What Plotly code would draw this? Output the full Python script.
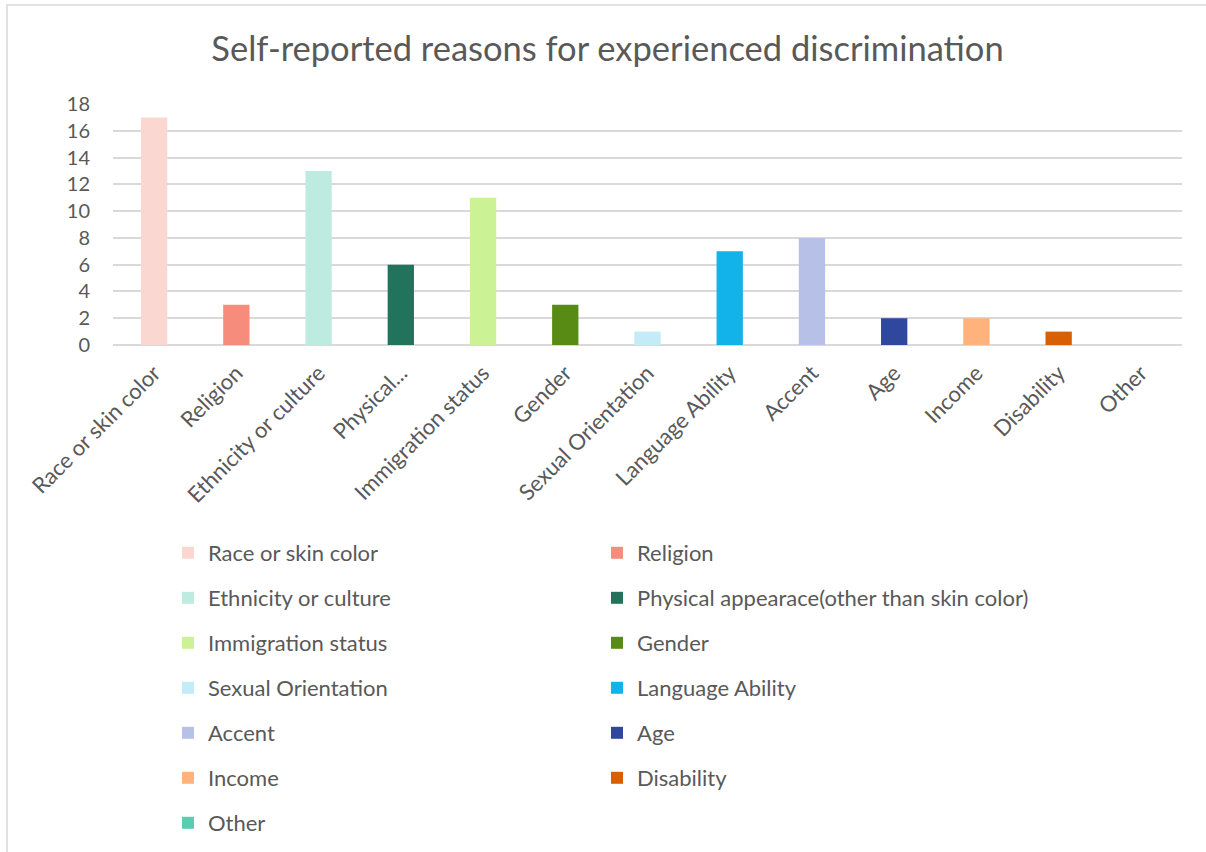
import plotly.graph_objects as go

# Survey responses: reasons people gave for discrimination they experienced
categories = [
    "Race or skin color", "Religion", "Ethnicity or culture",
    "Physical appearace(other than skin color)", "Immigration status", "Gender",
    "Sexual Orientation", "Language Ability", "Accent", "Age", "Income",
    "Disability", "Other",
]
tick_labels = [
    "Race or skin color", "Religion", "Ethnicity or culture", "Physical...",
    "Immigration status", "Gender", "Sexual Orientation", "Language Ability",
    "Accent", "Age", "Income", "Disability", "Other",
]
counts = [17, 3, 13, 6, 11, 3, 1, 7, 8, 2, 2, 1, 0]
colors = [
    "#FBD7D2", "#F58C7C", "#BEEBE0", "#22735C", "#CCF296", "#578B14",
    "#C4EBF8", "#12B3EA", "#B7C1E7", "#2F479C", "#FFB27C", "#D95F04",
    "#5ACCB0",
]

FONT = "Lato"
GREY = "#595959"

W, H = 1206, 852
L, R, T, B = 113, 24, 104, 507
pw, ph = W - L - R, H - T - B


def px_x(x):
    return (x - L) / pw


def px_y(y):
    return (H - B - y) / ph


fig = go.Figure()
for i, (cat, tick, val, col) in enumerate(zip(categories, tick_labels, counts, colors)):
    fig.add_trace(go.Bar(
        x=[tick], y=[val], name=cat,
        marker=dict(color=col, line=dict(width=0)),
        width=0.32,
        legend="legend" if i % 2 == 0 else "legend2",
        legendgroup=cat,
    ))

legend_common = dict(
    orientation="v",
    yanchor="top",
    xanchor="left",
    font=dict(family=FONT, size=22, color=GREY),
    tracegroupgap=13.4,
    bgcolor="rgba(0,0,0,0)",
    itemclick=False,
)

fig.update_layout(
    width=W, height=H,
    margin=dict(l=L, r=R, t=T, b=B, autoexpand=False),
    paper_bgcolor="white",
    plot_bgcolor="white",
    barmode="overlay",
    bargap=0.68,
    title=dict(
        text="Self-reported reasons for experienced discrimination",
        x=607.5 / W, xanchor="center", xref="container",
        y=1 - 49 / H, yanchor="middle",
        font=dict(family=FONT, size=34.5, color=GREY),
    ),
    xaxis=dict(
        categoryorder="array", categoryarray=tick_labels,
        tickangle=-45,
        tickfont=dict(family=FONT, size=22, color=GREY),
        showgrid=False, showline=False, zeroline=False,
        ticks="", ticklen=0, ticklabelstandoff=10,
    ),
    yaxis=dict(
        range=[0, 18], dtick=2,
        tickfont=dict(family=FONT, size=20, color=GREY),
        showgrid=True, gridcolor="#D9D9D9", gridwidth=1.5,
        zeroline=True, zerolinecolor="#D9D9D9", zerolinewidth=1.5,
        showline=False, ticks="", ticklabelstandoff=22,
    ),
    legend=dict(x=px_x(168), y=px_y(532), **legend_common),
    legend2=dict(x=px_x(597), y=px_y(532), **legend_common),
    shapes=[dict(
        type="rect", xref="paper", yref="paper",
        x0=px_x(7), y0=px_y(900), x1=px_x(1250), y1=px_y(5),
        line=dict(color="#D9D9D9", width=1.5),
        fillcolor="rgba(0,0,0,0)", layer="below",
    )],
)

fig.write_html("out.html")
